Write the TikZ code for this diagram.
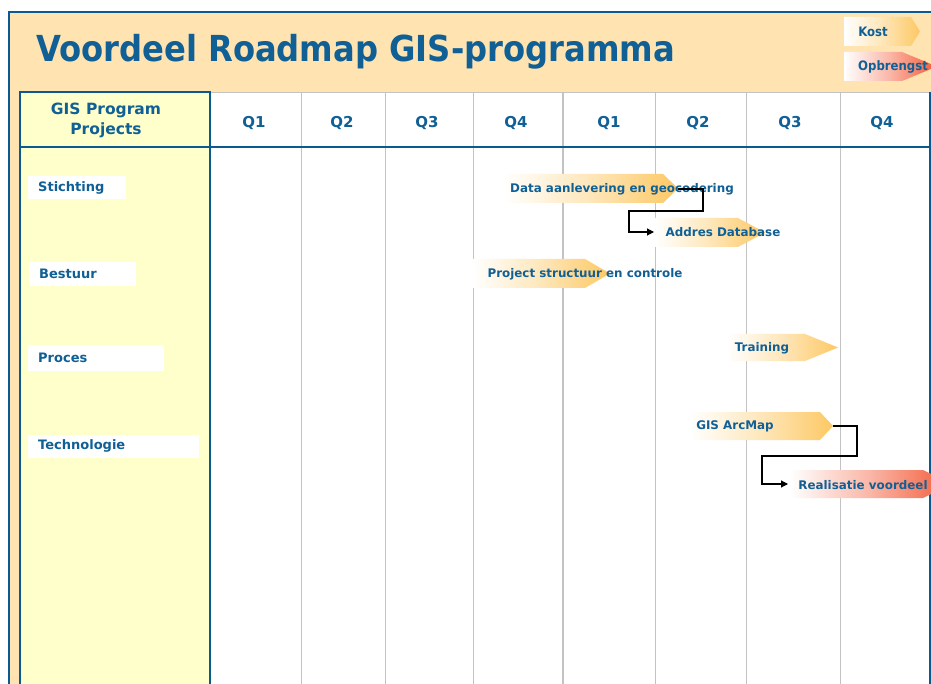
\documentclass[tikz,border=0pt]{standalone}
\usepackage{fontspec}
\setmainfont{DejaVu Sans}
\newfontfamily\condfont{DejaVu Sans Condensed}
\usetikzlibrary{arrows.meta,calc}
\definecolor{txtblue}{RGB}{16,96,150}
\definecolor{frameblue}{RGB}{10,90,145}
\definecolor{peach}{RGB}{255,228,178}
\definecolor{lightyel}{RGB}{255,255,204}
\definecolor{gridgray}{RGB}{195,195,195}
\definecolor{barorange}{RGB}{253,200,100}
\definecolor{barred}{RGB}{243,90,55}
\tikzset{
  lbl/.style={text=txtblue, font=\bfseries\fontsize{11.9}{14}\selectfont, inner sep=0pt},
  qlbl/.style={text=txtblue, font=\bfseries\fontsize{15}{17}\selectfont, inner sep=0pt},
  rowbox/.style={fill=white, anchor=west, inner xsep=10pt, inner ysep=0pt, minimum height=23pt, align=left, text=txtblue, font=\bfseries\fontsize{13}{15}\selectfont},
  conn/.style={draw=black, line width=1.1pt, -{Triangle[length=7pt,width=7pt]}},
  legend/.style={text=txtblue, font=\condfont\bfseries\fontsize{13}{15}\selectfont, inner sep=0pt}
}
% bar: left x, body end x, tip x, top y, bottom y, colour
\newcommand\gbar[6]{%
  \shade[left color=white, right color=#6, middle color=#6!45!white]
    (#1,#4) -- (#2,#4) -- (#3,{(#4+#5)/2}) -- (#2,#5) -- (#1,#5) -- cycle;}
\begin{document}
\begin{tikzpicture}[x=1pt,y=-1pt]
\useasboundingbox (0,0) rectangle (931,684);
% outer frame
\fill[peach] (9,12) rectangle (935,690);
\draw[frameblue, line width=1.6pt] (9,690) -- (9,12) -- (935,12);
% table
\fill[white] (210,92) rectangle (930,690);
\fill[lightyel] (20,92) rectangle (210,690);
\foreach \x in {301,385,473,655,746,840}
  \draw[gridgray, line width=0.9pt] (\x,92) -- (\x,690);
\draw[gridgray, line width=1.6pt] (563,92) -- (563,690);
\draw[gridgray, line width=0.6pt] (210,92) -- (930,92);
\draw[frameblue, line width=1.1pt] (20,690) -- (20,92) -- (210,92) -- (210,690);
\draw[frameblue, line width=1.1pt] (20,147) -- (930,147);
\draw[frameblue, line width=1.3pt] (930,92) -- (930,690);
% title
\node[anchor=base west, text=txtblue, font=\condfont\bfseries\fontsize{35.8}{40}\selectfont, inner sep=0pt] (title) at (36,62) {Voordeel Roadmap GIS-programma};
% legend
\gbar{844}{911}{920}{17}{46}{barorange}
\node[legend] (kost) at (873,32) {Kost};
\gbar{844}{902}{937}{52}{81}{barred}
\node[legend] (opbr) at (893,67) {Opbrengst};
% header
\node[qlbl, align=center, font=\bfseries\fontsize{15.5}{20}\selectfont] (hdr) at (106,120.5) {GIS Program\\Projects};
\foreach \x/\n [count=\i] in {254/Q1,342/Q2,427/Q3,516/Q4,609/Q1,698/Q2,790/Q3,882/Q4}
  \node[qlbl] (q\i) at (\x,123) {\n};
% row labels
\node[rowbox, text width=78pt] (r1) at (28,188) {Stichting};
\node[rowbox, text width=87pt, minimum height=24pt] (r2) at (29,274) {Bestuur};
\node[rowbox, text width=116pt, minimum height=26pt] (r3) at (28,358) {Proces};
\node[rowbox, text width=151pt] (r4) at (28,446) {Technologie};
% bars
\gbar{503}{663}{678}{174}{203}{barorange}
\coordinate (datatip) at (678,189);
\node[lbl] (data) at (622,189) {Data aanlevering en geocodering};
\gbar{655}{738}{765}{218}{247}{barorange}
\coordinate (addrin) at (654,232);
\node[lbl] (addr) at (723,232) {Addres Database};
\gbar{473}{585}{610}{259}{288}{barorange}
\node[lbl] (proj) at (585,274) {Project structuur en controle};
\gbar{727}{805}{838}{334}{361}{barorange}
\node[lbl] (train) at (762,348) {Training};
\gbar{690}{820}{833}{412}{440}{barorange}
\coordinate (arctip) at (833,426);
\node[lbl] (arc) at (735,426) {GIS ArcMap};
\gbar{790}{923}{952}{470}{498}{barred}
\coordinate (realin) at (788,484);
\node[lbl] (real) at (863,485) {Realisatie voordeel};
% connectors
\draw[conn] (datatip) -- ++(25,0) -- ++(0,22) -| ([xshift=-25pt]addrin) -- (addrin);
\draw[conn] (arctip) -- ++(24,0) -- ++(0,30) -| ([xshift=-26pt]realin) -- (realin);
\end{tikzpicture}
\end{document}
